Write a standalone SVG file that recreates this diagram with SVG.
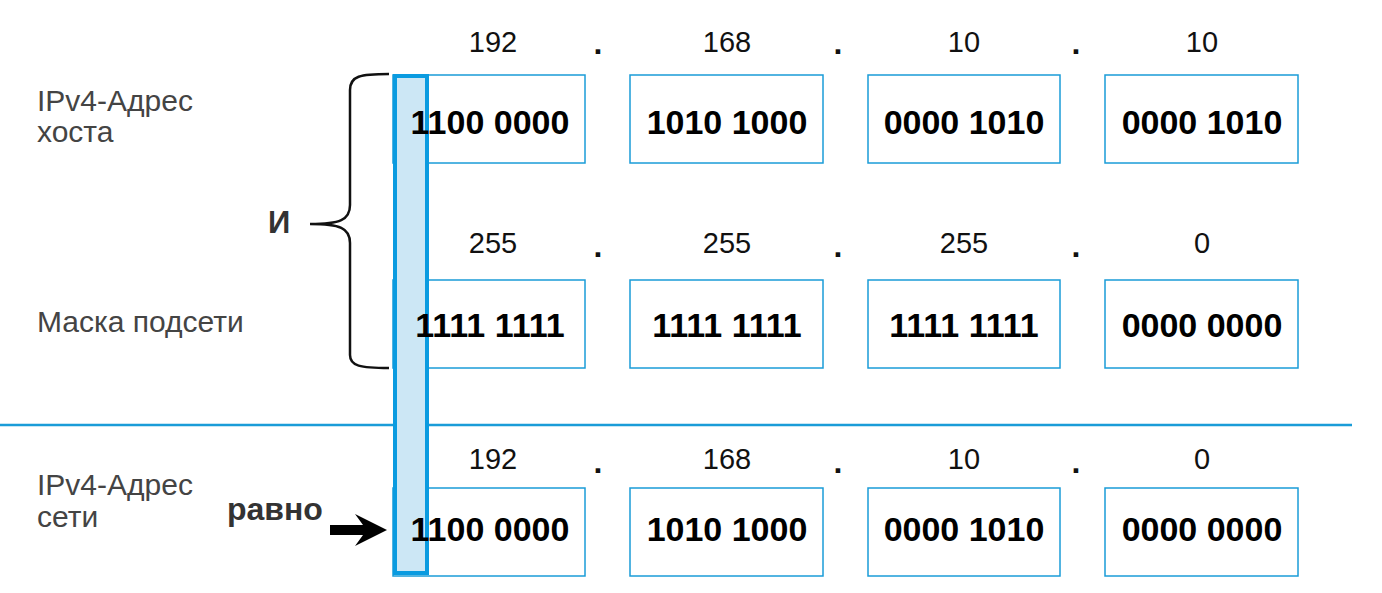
<svg xmlns="http://www.w3.org/2000/svg" width="1382" height="593" viewBox="0 0 1382 593">
<style>
.box{fill:#fff;stroke:#1a9cd8;stroke-width:1.5}
.bin{font-family:"Liberation Sans",Arial,sans-serif;font-weight:bold;font-size:34px;fill:#000;text-anchor:middle}
.dec{font-family:"Liberation Sans",Arial,sans-serif;font-size:29px;fill:#111;text-anchor:middle}
.dot{font-family:"Liberation Sans",Arial,sans-serif;font-size:32px;font-weight:bold;fill:#111;text-anchor:middle}
.lbl{font-family:"Liberation Sans",Arial,sans-serif;font-size:30px;fill:#444}
.op{font-family:"Liberation Sans",Arial,sans-serif;font-weight:bold;fill:#333}
</style>
<rect width="1382" height="593" fill="#fff"/>
<g id="labels">
<text class="lbl" x="37" y="111">IPv4-Адрес</text>
<text class="lbl" x="37" y="142">хоста</text>
<text class="lbl" x="37" y="332">Маска подсети</text>
<text class="lbl" x="37" y="495">IPv4-Адрес</text>
<text class="lbl" x="37" y="527">сети</text>
</g>
<g id="row1">
<text class="dec" x="493" y="52">192</text><text class="dot" x="598" y="54">.</text>
<text class="dec" x="727" y="52">168</text><text class="dot" x="838" y="54">.</text>
<text class="dec" x="964" y="52">10</text><text class="dot" x="1076" y="54">.</text>
<text class="dec" x="1202" y="52">10</text>
<rect class="box" x="393" y="75" width="192" height="88"/>
<rect class="box" x="630" y="75" width="193" height="88"/>
<rect class="box" x="868" y="75" width="192" height="88"/>
<rect class="box" x="1105" y="75" width="193" height="88"/>
</g>
<g id="row2">
<text class="dec" x="493" y="253">255</text><text class="dot" x="598" y="257">.</text>
<text class="dec" x="727" y="253">255</text><text class="dot" x="838" y="257">.</text>
<text class="dec" x="964" y="253">255</text><text class="dot" x="1076" y="257">.</text>
<text class="dec" x="1202" y="253">0</text>
<rect class="box" x="393" y="280" width="192" height="88"/>
<rect class="box" x="630" y="280" width="193" height="88"/>
<rect class="box" x="868" y="280" width="192" height="88"/>
<rect class="box" x="1105" y="280" width="193" height="88"/>
</g>
<g id="row3">
<text class="dec" x="493" y="469">192</text><text class="dot" x="598" y="473">.</text>
<text class="dec" x="727" y="469">168</text><text class="dot" x="838" y="473">.</text>
<text class="dec" x="964" y="469">10</text><text class="dot" x="1076" y="473">.</text>
<text class="dec" x="1202" y="469">0</text>
<rect class="box" x="393" y="488" width="192" height="88"/>
<rect class="box" x="630" y="488" width="193" height="88"/>
<rect class="box" x="868" y="488" width="192" height="88"/>
<rect class="box" x="1105" y="488" width="193" height="88"/>
</g>
<g id="separator"><line x1="0" y1="425" x2="1352" y2="425" stroke="#1a9cd8" stroke-width="2.5"/></g>
<g id="highlight"><rect x="395" y="76" width="32" height="497" fill="#cce7f5" stroke="#0a9be0" stroke-width="4"/></g>
<g id="values">
<text class="bin" x="490" y="134">1100 0000</text>
<text class="bin" x="727" y="134">1010 1000</text>
<text class="bin" x="964" y="134">0000 1010</text>
<text class="bin" x="1202" y="134">0000 1010</text>
<text class="bin" x="490" y="337">1111 1111</text>
<text class="bin" x="727" y="337">1111 1111</text>
<text class="bin" x="964" y="337">1111 1111</text>
<text class="bin" x="1202" y="337">0000 0000</text>
<text class="bin" x="490" y="541">1100 0000</text>
<text class="bin" x="727" y="541">1010 1000</text>
<text class="bin" x="964" y="541">0000 1010</text>
<text class="bin" x="1202" y="541">0000 0000</text>
</g>
<g id="connectors">
<path d="M389 74 C360 74 350 76 350 90 L350 205 C350 220 340 224 310 224 C340 224 350 228 350 243 L350 355 C350 366 360 368 389 368" fill="none" stroke="#111" stroke-width="2.5"/>
<path d="M330 525 L363 525 L355 514 L387 530 L355 546 L363 535 L330 535 Z" fill="#000"/>
</g>
<g id="operators">
<text class="op" x="268" y="233" font-size="31">И</text>
<text class="op" x="227" y="520" font-size="32">равно</text>
</g>
</svg>
